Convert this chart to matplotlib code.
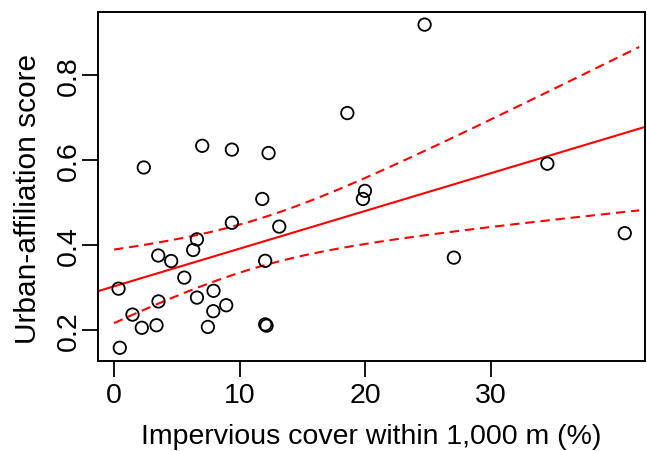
import numpy as np
import matplotlib
matplotlib.use("Agg")
import matplotlib.pyplot as plt

plt.rcParams['font.family'] = ['Liberation Sans', 'DejaVu Sans']

# ---- data ----
impervious = [2.37, 7.02, 9.38, 12.30, 18.57, 11.80, 19.97, 19.81, 9.38, 13.15,
              6.60, 6.30, 3.52, 4.55, 12.03, 5.59, 0.36, 7.92, 6.60, 3.54,
              8.93, 7.90, 1.47, 2.21, 3.38, 7.47, 12.03, 12.14, 0.46, 24.72,
              34.49, 27.05, 40.65]
urban_score = [0.583, 0.634, 0.625, 0.617, 0.711, 0.509, 0.528, 0.509, 0.453, 0.444,
               0.414, 0.389, 0.376, 0.363, 0.3635, 0.324, 0.298, 0.293, 0.277, 0.268,
               0.259, 0.245, 0.237, 0.206, 0.212, 0.208, 0.214, 0.211, 0.159, 0.919,
               0.592, 0.371, 0.4285]
x_ticks = [0, 10, 20, 30]
y_ticks = [0.2, 0.4, 0.6, 0.8]
x_label = "Impervious cover within 1,000 m (%)"
y_label = "Urban-affiliation score"
band_range = (0.0, 41.8)   # prediction grid for confidence band
t_crit = 2.0395            # t(0.975, df=31)

x = np.array(impervious)
y = np.array(urban_score)
n = len(x)

# OLS fit and 95% confidence band
xbar, ybar = x.mean(), y.mean()
sxx = np.sum((x - xbar) ** 2)
slope = np.sum((x - xbar) * (y - ybar)) / sxx
intercept = ybar - slope * xbar
resid = y - (intercept + slope * x)
s = np.sqrt(np.sum(resid ** 2) / (n - 2))
grid = np.linspace(band_range[0], band_range[1], 200)
fit = intercept + slope * grid
se = s * np.sqrt(1.0 / n + (grid - xbar) ** 2 / sxx)
upper = fit + t_crit * se
lower = fit - t_crit * se

W, H = 647, 452
fig = plt.figure(figsize=(W / 100, H / 100), dpi=100)
ax = fig.add_axes([98.3 / W, 1 - 361.7 / H, (645 - 98.3) / W, (361.7 - 12.7) / H])

ax.scatter(x, y, s=80, facecolors='none', edgecolors='black', linewidths=1.3, zorder=3)

def rpad(v):
    lo, hi = min(v), max(v)
    r = hi - lo
    return lo - 0.04 * r, hi + 0.04 * r

ax.set_xlim(*rpad(impervious))
ax.set_ylim(*rpad(urban_score))

ax.axline((0, intercept), slope=slope, color='#ff0000', lw=1.5, zorder=2)
ax.plot(grid, upper, color='#ff0000', lw=1.5, dashes=(4.5, 2.8), zorder=2)
ax.plot(grid, lower, color='#ff0000', lw=1.5, dashes=(4.5, 2.8), zorder=2)

ax.set_xticks(x_ticks)
ax.set_xticklabels([str(t) for t in x_ticks])
ax.set_yticks(y_ticks)
ax.set_yticklabels([f"{t:.1f}" for t in y_ticks], rotation=90, va='center')

for sp in ax.spines.values():
    sp.set_linewidth(1.4)
    sp.set_color('black')

ax.tick_params(axis='both', length=11.5, width=1.3, color='black', labelsize=20.5)
ax.tick_params(axis='x', pad=4)
ax.tick_params(axis='y', pad=0.5)

ax.set_xlabel(x_label, fontsize=20.5)
ax.xaxis.label.set_va('center')
ax.xaxis.set_label_coords(0.5, (361.7 - 437.5) / 349.0)

ax.set_ylabel(y_label, fontsize=21.5)
ax.yaxis.label.set_va('center')
ax.yaxis.set_label_coords((27.5 - 98.3) / 546.7, (361.7 - 199) / 349.0)

fig.savefig("out.png", dpi=100)
